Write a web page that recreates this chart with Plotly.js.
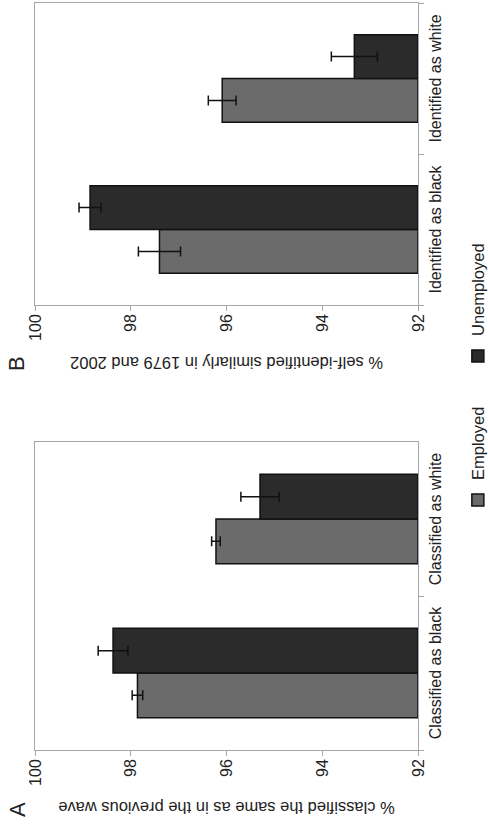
<!DOCTYPE html>
<html><head><meta charset="utf-8">
<script src="https://cdn.plot.ly/plotly-3.0.1.min.js"></script>
<style>
html,body{margin:0;padding:0;overflow:hidden;background:#fff;width:488px;height:825px}
#chart{position:absolute;left:0;top:0;width:825px;height:488px;transform-origin:0 0;transform:translate(0px,825px) rotate(-90deg);}
</style></head><body><div id="chart"></div>
<script>
const categoriesA = ['Classified as black', 'Classified as white'];
const categoriesB = ['Identified as black', 'Identified as white'];
const seriesNames = ['Employed', 'Unemployed'];
const employedA = [97.86, 96.22];
const employedErrA = [0.11, 0.09];
const unemployedA = [98.37, 95.30];
const unemployedErrA = [0.31, 0.40];
const employedB = [97.40, 96.09];
const employedErrB = [0.44, 0.29];
const unemployedB = [98.85, 93.33];
const unemployedErrB = [0.23, 0.48];
const valueTicks = [92, 94, 96, 98, 100];
const titleA = '% classified the same as in the previous wave';
const titleB = '% self-identified similarly in 1979 and 2002';
const BASE = 92;

const FONT = 'Liberation Sans, Arial, sans-serif';
const colors = ['#6b6b6b', '#2b2b2b'];

function barTrace(cats, vals, errs, idx, xa, ya, show) {
  return {
    type: 'bar', x: cats, y: vals.map(v => v - BASE), base: BASE,
    name: seriesNames[idx], xaxis: xa, yaxis: ya, showlegend: show,
    marker: {color: colors[idx], line: {color: '#111', width: 1.5}},
    error_y: {type: 'data', array: errs, visible: true, color: '#111', thickness: 1.5, width: 5}
  };
}

const data = [
  barTrace(categoriesA, employedA, employedErrA, 0, 'x', 'y', true),
  barTrace(categoriesA, unemployedA, unemployedErrA, 1, 'x', 'y', true),
  barTrace(categoriesB, employedB, employedErrB, 0, 'x2', 'y2', false),
  barTrace(categoriesB, unemployedB, unemployedErrB, 1, 'x2', 'y2', false)
];

const lineCol = '#a6a6a6';
function xAxis(domain, anchor) {
  return {domain: domain, anchor: anchor, type: 'category', tickson: 'boundaries',
    ticks: 'outside', ticklen: 5, tickcolor: lineCol, showline: true, linecolor: lineCol,
    linewidth: 1, mirror: true, showgrid: false, zeroline: false, ticklabelstandoff: 3,
    tickfont: {size: 16, color: '#222', family: FONT}};
}
function yAxis(anchor, title) {
  return {domain: [0, 1], anchor: anchor, range: [92, 100], tickvals: valueTicks,
    ticks: 'outside', ticklen: 5, tickcolor: lineCol, showline: true, linecolor: lineCol,
    linewidth: 1, mirror: true, showgrid: false, zeroline: false,
    tickfont: {size: 16, color: '#222', family: FONT},
    title: {text: title, font: {size: 16.5, color: '#222', family: FONT}, standoff: 11}};
}

const layout = {
  width: 825, height: 488,
  margin: {l: 0, r: 0, t: 35, b: 70, autoexpand: false},
  paper_bgcolor: '#fff', plot_bgcolor: '#fff',
  font: {family: FONT, color: '#222'},
  barmode: 'group', bargap: 0.42, bargroupgap: 0,
  xaxis: xAxis([75/825, 383/825], 'y'),
  yaxis: yAxis('x', titleA),
  xaxis2: xAxis([520/825, 822/825], 'y2'),
  yaxis2: yAxis('x2', titleB),
  showlegend: true,
  legend: {orientation: 'h', x: 305/825, xanchor: 'left', y: -0.157, yanchor: 'middle',
    entrywidth: 99, entrywidthmode: 'pixels',
    font: {size: 16.5, color: '#222', family: FONT}, bgcolor: 'rgba(0,0,0,0)'},
  annotations: [
    {text: 'A', xref: 'paper', yref: 'paper', x: 15/825, y: (418-17.5)/383, showarrow: false,
     xanchor: 'center', yanchor: 'middle', font: {size: 22, color: '#222', family: FONT}},
    {text: 'B', xref: 'paper', yref: 'paper', x: 461.5/825, y: (418-16.7)/383, showarrow: false,
     xanchor: 'center', yanchor: 'middle', font: {size: 22, color: '#222', family: FONT}}
  ]
};

Plotly.newPlot('chart', data, layout, {staticPlot: true, displayModeBar: false});
</script></body></html>
